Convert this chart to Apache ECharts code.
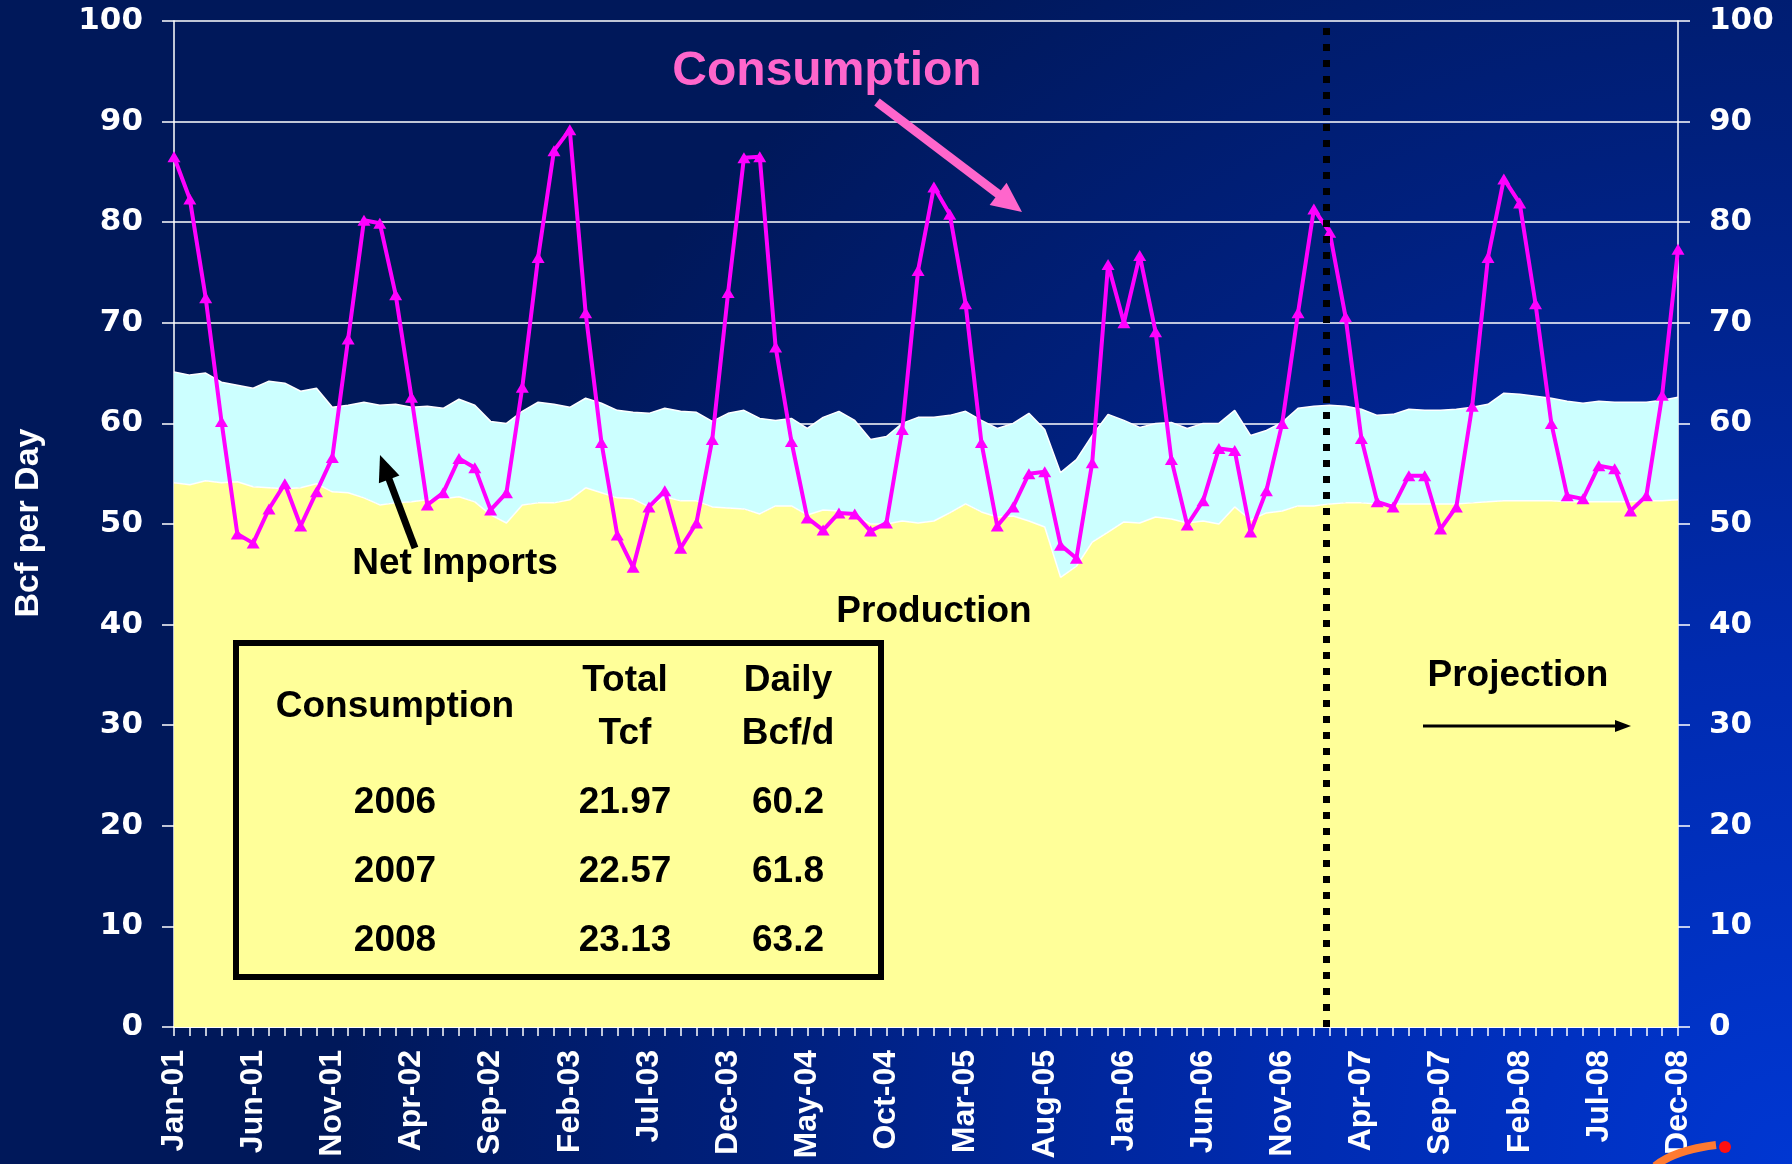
<!DOCTYPE html>
<html>
<head>
	<meta charset="utf-8">
	<title>Natural Gas Consumption</title>
	<script src="https://cdn.jsdelivr.net/npm/echarts@6/dist/echarts.min.js"></script>
</head>
<body style="margin: 0; background: #001858">

	<div id="main" style="width: 1792px; height: 1164px"></div>

	<script type="text/javascript">

		// months Jan-01 .. Dec-08
		var monthNames = ['Jan','Feb','Mar','Apr','May','Jun','Jul','Aug','Sep','Oct','Nov','Dec'];
		var years = ['01','02','03','04','05','06','07','08'];

		// Bcf per day
		var consumption = [
			86.5, 82.3, 72.5, 60.2, 49.0, 48.1, 51.5, 54.0, 49.8, 53.2, 56.6, 68.4,
			80.2, 79.9, 72.8, 62.6, 51.9, 53.1, 56.5, 55.6, 51.4, 53.1, 63.6, 76.5,
			87.1, 89.2, 71.0, 58.1, 48.9, 45.7, 51.7, 53.3, 47.6, 50.1, 58.4, 73.0,
			86.4, 86.5, 67.6, 58.2, 50.6, 49.4, 51.1, 51.0, 49.3, 50.1, 59.4, 75.2,
			83.5, 80.8, 71.9, 58.1, 49.8, 51.7, 55.0, 55.2, 47.9, 46.6, 56.1, 75.8,
			70.0, 76.7, 69.1, 56.4, 49.9, 52.3, 57.5, 57.3, 49.2, 53.3, 60.0, 71.0,
			81.3, 79.0, 70.6, 58.5, 52.2, 51.7, 54.8, 54.8, 49.5, 51.7, 61.7, 76.5,
			84.3, 81.9, 71.9, 60.0, 52.8, 52.5, 55.8, 55.5, 51.3, 52.8, 62.8, 77.3
		];

		var production = [
			54.1, 53.9, 54.3, 54.1, 54.2, 53.7, 53.6, 53.5, 53.6, 54.0, 53.2, 53.1,
			52.6, 51.9, 52.1, 52.2, 52.4, 52.5, 52.7, 52.2, 50.9, 50.1, 51.9, 52.1,
			52.1, 52.4, 53.6, 53.1, 52.6, 52.5, 51.7, 52.7, 52.3, 52.3, 51.7, 51.6,
			51.5, 51.0, 51.8, 51.8, 50.9, 51.4, 51.3, 50.8, 50.0, 50.0, 50.3, 50.1,
			50.3, 51.1, 52.0, 51.2, 50.7, 50.8, 50.3, 49.7, 44.7, 45.8, 48.2, 49.2,
			50.2, 50.1, 50.7, 50.5, 50.1, 50.3, 50.0, 51.7, 50.4, 51.1, 51.3, 51.8,
			51.8, 52.0, 52.1, 52.1, 52.0, 52.0, 52.0, 52.0, 52.0, 52.0, 52.1, 52.2,
			52.3, 52.3, 52.3, 52.3, 52.2, 52.2, 52.2, 52.2, 52.2, 52.3, 52.3, 52.4
		];

		var netImports = [
			11.0, 10.9, 10.7, 10.0, 9.6, 9.8, 10.6, 10.5, 9.6, 9.5, 8.4, 8.7,
			9.5, 9.9, 9.8, 9.4, 9.3, 9.0, 9.7, 9.6, 9.3, 9.9, 9.3, 10.0,
			9.8, 9.2, 8.9, 8.9, 8.7, 8.6, 9.3, 8.8, 8.9, 8.8, 8.5, 9.4,
			9.8, 9.5, 8.5, 8.7, 8.6, 9.2, 9.9, 9.5, 8.4, 8.7, 9.7, 10.5,
			10.3, 9.7, 9.2, 9.1, 8.8, 9.2, 10.7, 9.7, 10.4, 10.6, 10.6, 11.7,
			10.1, 9.5, 9.3, 9.6, 9.4, 9.7, 10.0, 9.6, 8.4, 8.2, 8.8, 9.7,
			9.9, 9.8, 9.6, 9.3, 8.8, 8.9, 9.4, 9.3, 9.3, 9.4, 9.5, 9.7,
			10.7, 10.6, 10.4, 10.2, 10.0, 9.8, 10.0, 9.9, 9.9, 9.8, 10.0, 10.2
		];

		// where the projection starts (month index, between Jan-07 and Feb-07)
		var projectionStart = 72.8;

		// summary table
		var tableYears = ['2006', '2007', '2008'];
		var tableTotal = ['21.97', '22.57', '23.13'];
		var tableDaily = ['60.2', '61.8', '63.2'];

		var months = [];
		for (var y = 0; y < years.length; y++) {
			for (var m = 0; m < 12; m++) {
				months.push(monthNames[m] + '-' + years[y]);
			}
		}

		var FONT = "'Liberation Sans', Arial, sans-serif";

		var arrow = function(x1, y1, x2, y2, color, w, headLen, headW){
			var dx = x2 - x1, dy = y2 - y1;
			var len = Math.sqrt(dx * dx + dy * dy);
			var ux = dx / len, uy = dy / len;
			var bx = x2 - ux * headLen, by = y2 - uy * headLen;
			return [{
				type: 'line', z: 20,
				shape: {x1: x1, y1: y1, x2: bx + ux, y2: by + uy},
				style: {stroke: color, lineWidth: w}
			}, {
				type: 'polygon', z: 20,
				shape: {points: [[x2, y2], [bx - uy * headW / 2, by + ux * headW / 2], [bx + uy * headW / 2, by - ux * headW / 2]]},
				style: {fill: color}
			}];
		}

		var txt = function(text, x, y, size, color){
			return {
				type: 'text', z: 20, x: x, y: y,
				style: {
					text: text, fill: color, font: 'bold ' + size + 'px ' + FONT,
					textAlign: 'center', textVerticalAlign: 'middle'
				}
			};
		}

		var graphics = [];
		graphics.push(txt('Consumption', 827, 72, 48, '#ff66cc'));
		graphics = graphics.concat(arrow(877, 102, 1022, 212, '#ff66cc', 9, 30, 28));
		graphics.push(txt('Net Imports', 455, 564, 37, '#000'));
		graphics = graphics.concat(arrow(415, 548, 380, 455, '#000', 7, 26, 22));
		graphics.push(txt('Production', 934, 612, 37, '#000'));
		graphics.push(txt('Projection', 1518, 676, 37, '#000'));
		graphics = graphics.concat(arrow(1423, 726, 1631, 726, '#000', 3, 16, 12));

		// table
		graphics.push({
			type: 'rect', z: 20,
			shape: {x: 236, y: 643, width: 645, height: 334},
			style: {fill: null, stroke: '#000', lineWidth: 6}
		});
		graphics.push(txt('Consumption', 395, 707, 37, '#000'));
		graphics.push(txt('Total', 625, 681, 37, '#000'));
		graphics.push(txt('Tcf', 625, 734, 37, '#000'));
		graphics.push(txt('Daily', 788, 681, 37, '#000'));
		graphics.push(txt('Bcf/d', 788, 734, 37, '#000'));
		var rowY = [803, 872, 941];
		for (var i = 0; i < tableYears.length; i++) {
			graphics.push(txt(tableYears[i], 395, rowY[i], 37, '#000'));
			graphics.push(txt(tableTotal[i], 625, rowY[i], 37, '#000'));
			graphics.push(txt(tableDaily[i], 788, rowY[i], 37, '#000'));
		}

		// axis name
		graphics.push({
			type: 'text', z: 20, x: 29, y: 523, rotation: Math.PI / 2,
			style: {
				text: 'Bcf per Day', fill: '#fff', font: 'bold 34px ' + FONT,
				textAlign: 'center', textVerticalAlign: 'middle'
			}
		});

		// bit of logo in the corner
		graphics.push({
			type: 'bezierCurve', z: 20,
			shape: {x1: 1655, y1: 1166, cpx1: 1675, cpy1: 1150, x2: 1716, y2: 1145},
			style: {stroke: '#ff7a30', lineWidth: 8, fill: null}
		});
		graphics.push({
			type: 'circle', z: 21,
			shape: {cx: 1725, cy: 1147, r: 6},
			style: {fill: '#ff1010'}
		});

		var myChart = echarts.init(document.getElementById('main'));

		var yAxisBase = function(pos){
			return {
				type: 'value', position: pos, min: 0, max: 100, interval: 10,
				axisLine: {show: true, lineStyle: {color: '#fff', width: 1.5}},
				axisTick: {show: true, length: 12, lineStyle: {color: '#fff', width: 1.5}},
				axisLabel: {
					color: '#fff', fontSize: 31, fontWeight: 'bold',
					fontFamily: "'DejaVu Sans', sans-serif", margin: 31
				},
				splitLine: {show: pos == 'left', lineStyle: {color: '#fff', width: 1.5}}
			};
		}

		var option = {
			backgroundColor: {
				type: 'radial', x: 1, y: 1, r: 1.25,
				colorStops: [
					{offset: 0, color: '#0037d2'},
					{offset: 0.35, color: '#002bb0'},
					{offset: 0.7, color: '#00207e'},
					{offset: 1, color: '#00185a'}
				]
			},
			animation: false,
			grid: {left: 174, right: 114, top: 21, bottom: 137},
			xAxis: [{
				type: 'category',
				data: months,
				boundaryGap: false,
				axisLine: {lineStyle: {color: '#fff', width: 2}},
				axisTick: {show: true, interval: 0, length: 9, lineStyle: {color: '#fff', width: 1.5}},
				axisLabel: {
					interval: 4, rotate: 90, margin: 23,
					color: '#fff', fontSize: 32, fontWeight: 'bold', fontFamily: FONT
				},
				splitLine: {show: false}
			}, {
				type: 'value', min: 0, max: 95, show: false
			}],
			yAxis: [yAxisBase('left'), yAxisBase('right')],
			series: [
				{
					name: 'Production',
					type: 'line',
					stack: 'supply',
					data: production,
					symbol: 'none',
					lineStyle: {color: '#fff', width: 1.5},
					areaStyle: {color: '#ffff99', opacity: 1},
					z: 2
				},
				{
					name: 'Net Imports',
					type: 'line',
					stack: 'supply',
					data: netImports,
					symbol: 'none',
					lineStyle: {color: '#fff', width: 1.5},
					areaStyle: {color: '#ccffff', opacity: 1},
					z: 1
				},
				{
					name: 'Consumption',
					type: 'line',
					data: consumption,
					symbol: 'triangle',
					symbolSize: [13, 11],
					showAllSymbol: true,
					itemStyle: {color: '#ff00ff'},
					lineStyle: {color: '#ff00ff', width: 4},
					z: 4
				},
				{
					name: 'Projection',
					type: 'line',
					xAxisIndex: 1,
					data: [],
					z: 6,
					markLine: {
						silent: true,
						symbol: 'none',
						label: {show: false},
						lineStyle: {color: '#000', width: 7, type: [7, 9]},
						data: [{xAxis: projectionStart}]
					}
				}
			],
			graphic: graphics
		};

		myChart.setOption(option);

	</script>

</body>
</html>
